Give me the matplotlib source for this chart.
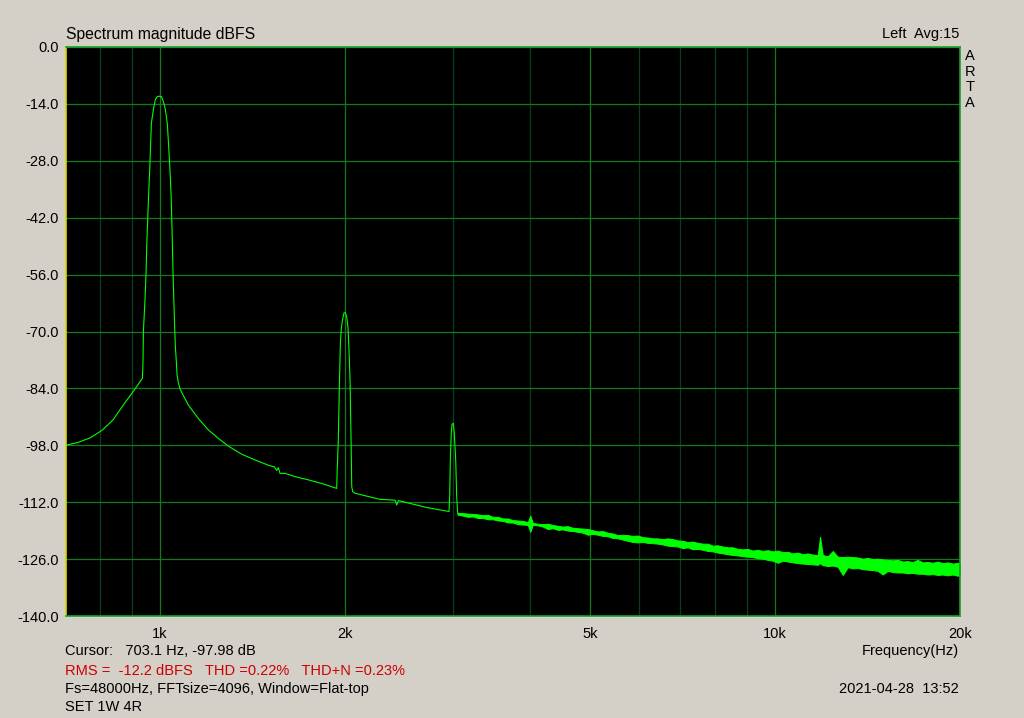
import matplotlib
matplotlib.use('agg')
import matplotlib.pyplot as plt

# trace: leakage skirt, 1k / 2k / 3k peaks
main_freq = [703.1, 735, 769, 805, 838, 877, 911, 936, 938, 939.5, 944.8, 948.9, 951.4, 955,
             958.6, 962.2, 964.4, 968.2, 975.2, 982.6, 990, 997.4, 1004.9, 1012.4, 1020,
             1027.7, 1032.8, 1038.1, 1042, 1045.9, 1049.8, 1054.9, 1058.9, 1062.9, 1065.7,
             1070.8, 1077.7, 1111.8, 1154, 1198, 1244, 1291.6, 1357.8, 1427.1, 1500, 1534,
             1548, 1557.3, 1567.2, 1596.8, 1657.7, 1742.4, 1832, 1937.8, 1941, 1949.5, 1957,
             1964.2, 1971.6, 1982, 1991.8, 2001.5, 2012, 2021.8, 2029.4, 2037, 2044.7, 2050,
             2057.7, 2075.5, 2168, 2279.5, 2411, 2426.4, 2441, 2549.6, 2714.4, 2853, 2951,
             2958.8, 2965.4, 2976.6, 2984.4, 2999, 3010, 3025.8, 3037, 3048.7]
main_db = [-98.0, -97.3, -96.2, -94.3, -91.8, -87.5, -84.1, -81.5, -77.8, -70.0, -62.7, -55.7, -48.9, -41.9,
           -35.4, -29.9, -25.3, -18.6, -15.5, -12.9, -12.2, -12.1, -12.2, -13.4, -15.3,
           -19.0, -24.5, -30.7, -36.0, -44.8, -55.7, -66.4, -73.7, -77.4, -80.7,
           -82.5, -84.2, -88.1, -91.4, -94.2, -96.3, -98.2, -100.2, -101.6, -102.9, -103.3,
           -104.2, -103.5, -104.9, -104.9, -105.7, -106.5, -107.4, -108.6, -104.5, -96.5, -83.7,
           -73.1, -69.2, -66.8, -65.4, -65.4, -66.4, -69.2, -75.0, -81.9, -96.5, -108.2,
           -109.4, -109.8, -110.5, -111.3, -111.5, -112.7, -111.6, -112.3, -113.3, -113.9, -114.3,
           -110.2, -101.5, -94.7, -92.8, -92.6, -95.1, -101.6, -110.6, -114.9]

# noise floor above 3 kHz: upper / lower edge of the green band
noise_freq = [3050, 3108, 3166, 3226, 3287, 3349, 3412, 3477, 3543, 3610, 3678, 3747, 3818,
              3890, 3964, 4000, 4039, 4115, 4193, 4272, 4353, 4435, 4519, 4604, 4691, 4780,
              4870, 4962, 5056, 5152, 5249, 5348, 5449, 5552, 5657, 5764, 5873, 5984, 6097,
              6212, 6330, 6449, 6571, 6695, 6822, 6951, 7082, 7216, 7352, 7491, 7633, 7777,
              7924, 8074, 8226, 8382, 8540, 8702, 8866, 9034, 9204, 9378, 9556, 9736, 9920,
              10108, 10299, 10493, 10692, 10894, 11100, 11310, 11523, 11741, 11840, 11963,
              12189, 12420, 12654, 12894, 13137, 13386, 13639, 13896, 14159, 14426, 14699,
              14977, 15260, 15548, 15842, 16141, 16446, 16757, 17074, 17397, 17725, 18060,
              18402, 18749, 19104, 19465, 19833, 20000]
noise_hi = [-114.6, -114.7, -114.8, -114.9, -115.0, -115.2, -115.1, -115.6, -115.6, -116.0, -116.0,
            -116.4, -116.5, -116.6, -116.9, -115.3, -117.1, -117.3, -117.4, -117.3, -117.6, -117.8,
            -118.0, -117.9, -118.3, -118.4, -118.5, -118.6, -118.9, -119.2, -119.1, -119.5, -119.7,
            -120.1, -120.0, -120.1, -120.3, -120.2, -120.6, -120.7, -120.9, -120.9, -121.1, -120.9,
            -121.1, -121.4, -121.5, -121.8, -121.7, -122.0, -122.2, -122.2, -122.7, -122.6, -122.9,
            -123.1, -123.1, -123.5, -123.6, -123.5, -123.9, -123.7, -124.0, -123.8, -124.1, -123.9,
            -124.3, -124.2, -124.6, -124.4, -124.8, -124.6, -124.9, -125.0, -120.5, -125.0, -125.3,
            -124.0, -125.4, -125.5, -125.4, -125.5, -125.6, -125.9, -125.7, -126.0, -125.9, -126.1,
            -126.2, -126.3, -126.2, -126.6, -126.5, -126.7, -126.2, -126.8, -126.7, -126.9, -126.6,
            -127.0, -126.8, -127.1, -126.9, -127.0]
noise_lo = [-115.1, -115.3, -115.6, -115.5, -115.9, -115.9, -116.2, -116.2, -116.5, -116.6, -117.0,
            -117.0, -117.4, -117.5, -117.6, -119.3, -117.6, -117.7, -118.0, -118.6, -118.4, -118.8,
            -118.7, -119.0, -119.1, -119.3, -119.5, -120.0, -119.8, -120.0, -120.3, -120.4, -120.8,
            -120.9, -121.2, -121.5, -121.8, -121.9, -121.8, -122.0, -122.1, -122.2, -122.4, -122.7,
            -122.8, -122.9, -123.3, -123.1, -123.6, -123.5, -123.7, -124.0, -124.1, -124.4, -124.6,
            -124.8, -125.0, -125.1, -125.3, -125.4, -125.5, -125.8, -125.9, -126.2, -126.4, -126.9,
            -126.4, -126.6, -126.8, -127.0, -127.1, -127.2, -127.3, -127.4, -127.0, -127.5, -127.7,
            -127.6, -127.9, -129.9, -128.0, -128.3, -128.2, -128.5, -128.6, -128.7, -128.9, -129.8,
            -128.9, -129.2, -129.3, -129.3, -129.5, -129.4, -129.6, -129.6, -129.8, -129.7, -129.9,
            -129.8, -130.0, -129.8, -130.1, -129.9]

y_ticks = [-140, -126, -112, -98, -84, -70, -56, -42, -28, -14, 0]
x_major = [1000, 2000, 5000, 10000, 20000]
x_labels = ['1k', '2k', '5k', '10k', '20k']
x_minor = [800, 900, 3000, 4000, 6000, 7000, 8000, 9000]

BG = '#d4d0c8'
TRACE = '#00ff00'
plt.rcParams['font.family'] = ['Liberation Sans', 'DejaVu Sans']

fig = plt.figure(figsize=(10.24, 7.18), dpi=100, facecolor=BG)
ax = fig.add_axes([66 / 1024, 1 - 616 / 718, 894 / 1024, 569 / 718])
ax.set_facecolor('black')

ax.plot(main_freq, main_db, color=TRACE, lw=0.8)
ax.fill_between(noise_freq, noise_lo, noise_hi, color=TRACE, lw=0.7)

ax.set_xscale('log')
ax.set_xlim(703.1, 20000)
ax.set_ylim(-140, 0)
ax.set_xticks(x_major)
ax.set_xticklabels(x_labels)
ax.set_xticks(x_minor, minor=True)
ax.set_xticklabels([], minor=True)
ax.set_yticks(y_ticks)
ax.set_yticklabels([f'{v:.1f}' for v in y_ticks])
ax.tick_params(which='both', length=0, labelsize=10.5, colors='black')
ax.tick_params(axis='x', pad=8)
ax.tick_params(axis='y', pad=5)
ax.grid(which='major', color='#14781e', lw=0.9)
ax.grid(which='minor', axis='x', color='#0b3d1a', lw=0.9)
ax.set_axisbelow(True)
for side in ['top', 'right', 'bottom']:
    ax.spines[side].set_color('#14a02a')
    ax.spines[side].set_linewidth(1.2)
ax.spines['left'].set_color('#d8d800')
ax.spines['left'].set_linewidth(1.2)

fs = 10.5
def px(x, y):
    return x / 1024, 1 - y / 718

fig.text(*px(66, 34), 'Spectrum magnitude dBFS', fontsize=11.3, va='center', ha='left')
fig.text(*px(959, 34), 'Left  Avg:15', fontsize=fs, va='center', ha='right')
for i, ch in enumerate('ARTA'):
    fig.text(*px(970, 56 + 15.7 * i), ch, fontsize=fs, va='center', ha='center')
fig.text(*px(65, 651), 'Cursor:   703.1 Hz, -97.98 dB', fontsize=fs, va='center')
fig.text(*px(959, 651), 'Frequency(Hz)', fontsize=fs, va='center', ha='right')
fig.text(*px(65, 671), 'RMS =  -12.2 dBFS   THD =0.22%   THD+N =0.23%',
         fontsize=fs, va='center', color='#cc0000')
fig.text(*px(65, 689), 'Fs=48000Hz, FFTsize=4096, Window=Flat-top', fontsize=fs, va='center')
fig.text(*px(959, 689), '2021-04-28  13:52', fontsize=fs, va='center', ha='right')
fig.text(*px(65, 707), 'SET 1W 4R', fontsize=fs, va='center')

fig.savefig('out.png', dpi=100, facecolor=BG)
plt.close(fig)
